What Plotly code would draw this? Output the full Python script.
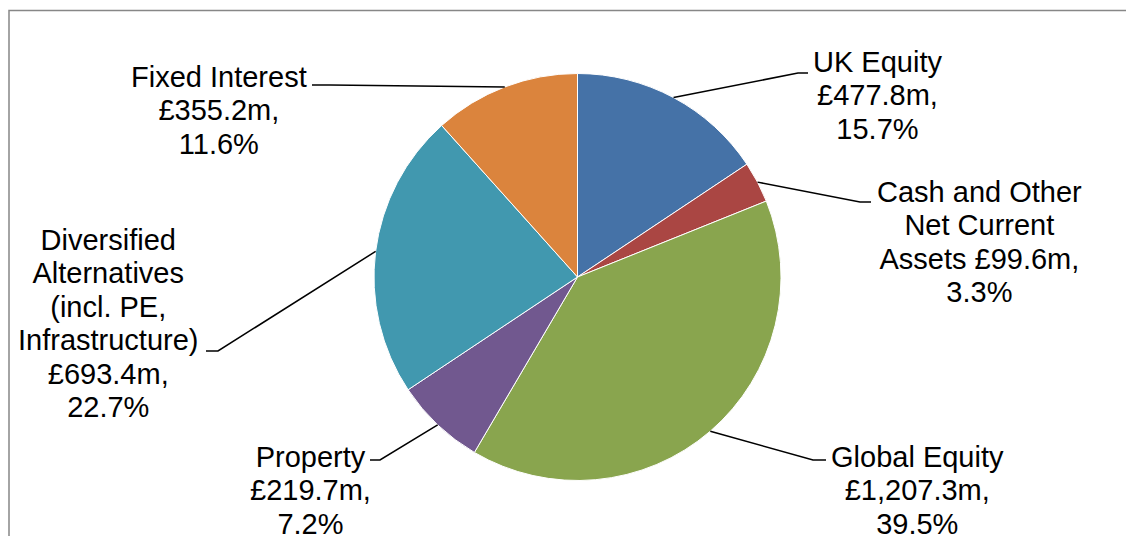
import math
import plotly.graph_objects as go

# ---- data ----
categories = ["UK Equity", "Cash and Other Net Current Assets", "Global Equity",
              "Property", "Diversified Alternatives (incl. PE, Infrastructure)", "Fixed Interest"]
values_m = [477.8, 99.6, 1207.3, 219.7, 693.4, 355.2]
percent_labels = ["15.7%", "3.3%", "39.5%", "7.2%", "22.7%", "11.6%"]
label_lines = [
    ["UK Equity", "£477.8m,", "15.7%"],
    ["Cash and Other", "Net Current", "Assets £99.6m,", "3.3%"],
    ["Global Equity", "£1,207.3m,", "39.5%"],
    ["Property", "£219.7m,", "7.2%"],
    ["Diversified", "Alternatives", "(incl. PE,", "Infrastructure)", "£693.4m,", "22.7%"],
    ["Fixed Interest", "£355.2m,", "11.6%"],
]
colors = ["#4572A7", "#AA4643", "#89A54E", "#71588F", "#4198AF", "#DB843D"]

# ---- layout constants (screen pixels; page body has an 8px margin) ----
W, H = 1134, 536
PAGE_OFF = 8
CX, CY, R = 577.5, 277.0, 203.5
FONT_PX = 29
LINE_GAP = 33.4
# label block: (center x, first line center y), leader elbow, leader end
label_pos = [(877, 62), (979, 192), (917, 457), (310, 457), (108, 240), (219, 77)]
elbows = [(798, 73), (860, 202), (813, 460), (380, 460), (218, 351), (330, 85)]
ends = [(808, 73), (871, 202), (826, 460), (370, 460), (206, 351), (312, 85)]


def px(x):
    return (x - PAGE_OFF) / W


def py(y):
    return 1 - (y - PAGE_OFF) / H


fig = go.Figure()
fig.add_trace(go.Pie(
    labels=categories, values=values_m, sort=False, direction="clockwise", rotation=0,
    marker=dict(colors=colors, line=dict(color="white", width=1)),
    textinfo="none", hoverinfo="label+value+percent", showlegend=False,
    domain=dict(x=[px(CX - R), px(CX + R)], y=[py(CY + R), py(CY - R)]),
))

total = sum(values_m)
cum = 0.0
shapes = []
annotations = []
for i, v in enumerate(values_m):
    mid = (cum + v / 2) / total * 2 * math.pi
    cum += v
    sx = CX + R * math.sin(mid)
    sy = CY - R * math.cos(mid)
    ex, ey = elbows[i]
    tx, ty = ends[i]
    path = f"M {px(sx)},{py(sy)} L {px(ex)},{py(ey)} L {px(tx)},{py(ty)}"
    shapes.append(dict(type="path", xref="paper", yref="paper", path=path,
                       line=dict(color="black", width=1.5)))
    lines = label_lines[i]
    n = len(lines)
    lx, ly = label_pos[i]
    cy_block = ly + (n - 1) * LINE_GAP / 2
    text = "<br>".join(f'<span style="font-size:{FONT_PX}px">{t}</span>' for t in lines)
    annotations.append(dict(x=px(lx), y=py(cy_block), xref="paper", yref="paper",
                            text=text, showarrow=False, xanchor="center", yanchor="middle",
                            align="center",
                            font=dict(family="Liberation Sans, Arial, sans-serif",
                                      size=LINE_GAP / 1.3, color="black")))

# chart-area border (cropped on right and bottom)
shapes.append(dict(type="path", xref="paper", yref="paper",
                   path=f"M {px(9)},{py(560)} L {px(9)},{py(10.5)} L {px(1160)},{py(10.5)}",
                   line=dict(color="#878787", width=1.5)))

fig.update_layout(width=W, height=H, margin=dict(l=0, r=0, t=0, b=0),
                  paper_bgcolor="white", plot_bgcolor="white",
                  shapes=shapes, annotations=annotations)
fig.write_html("out.html")
